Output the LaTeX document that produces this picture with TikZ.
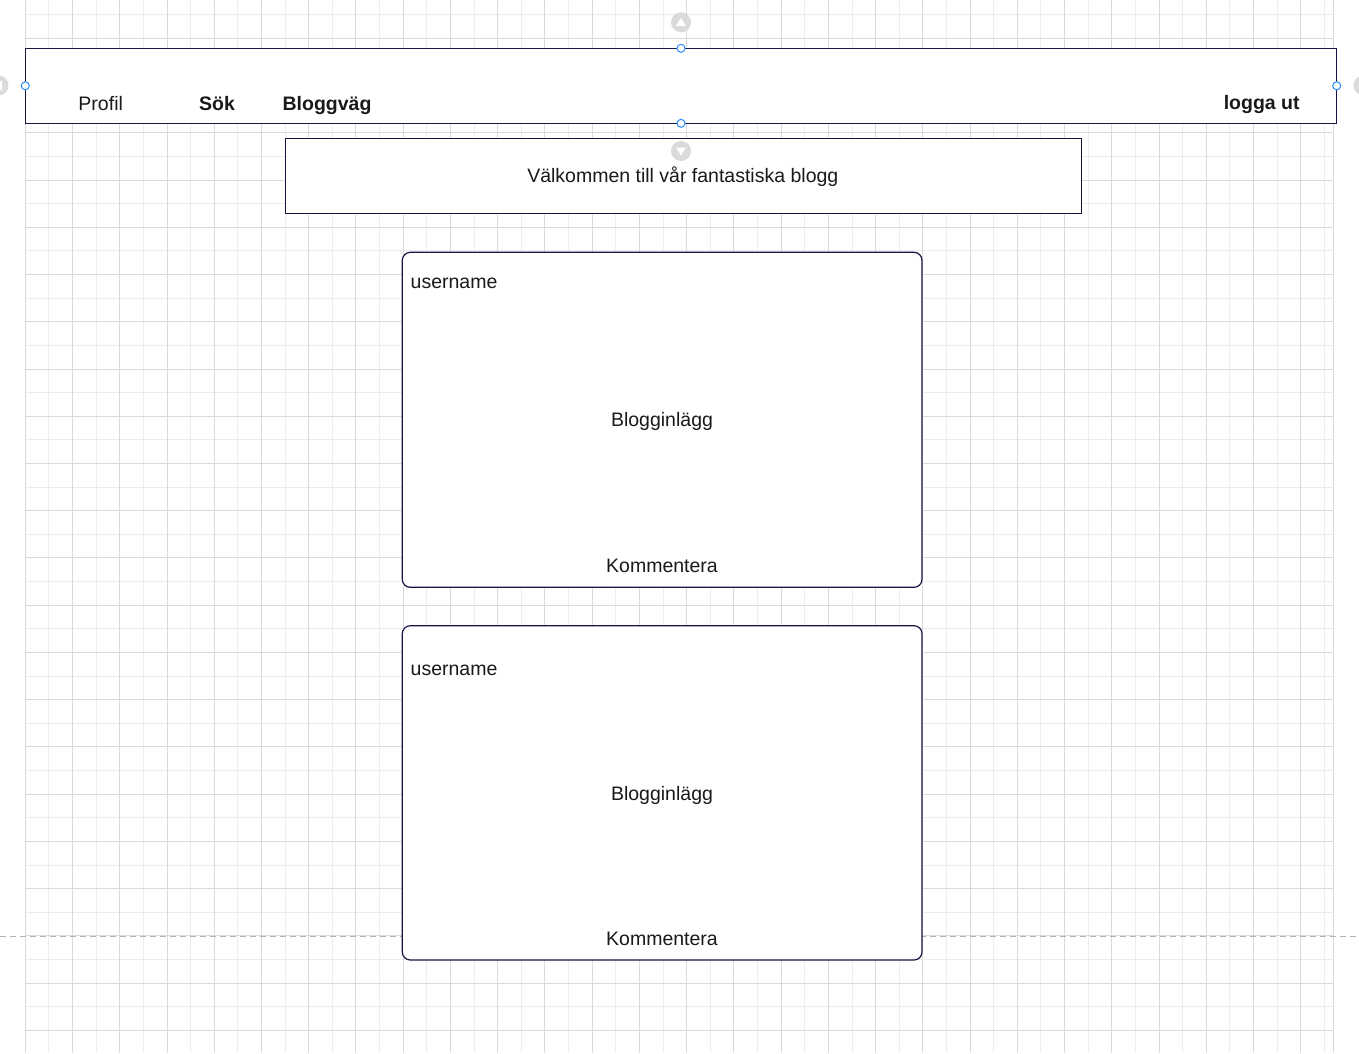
\documentclass[tikz,border=0pt]{standalone}
\usepackage{fontspec}
\setmainfont{Liberation Sans}
\definecolor{boxline}{RGB}{22,22,66}
\definecolor{gridmajor}{RGB}{218,218,218}
\definecolor{gridminor}{RGB}{236,236,236}
\definecolor{pagebreak}{RGB}{178,178,178}
\definecolor{handleblue}{RGB}{41,141,255}
\definecolor{hintgray}{RGB}{218,218,218}
\tikzset{
  boxstyle/.style={draw=boxline, fill=white, line width=1.2pt, inner sep=0pt, outer sep=0pt},
  poststyle/.style={boxstyle, rounded corners=8pt},
  txt/.style={inner sep=0pt, outer sep=0pt, anchor=base, text=black!90, font=\fontsize{19.5}{23}\selectfont},
  btxt/.style={txt, font=\fontsize{19.5}{23}\selectfont\bfseries},
  handle/.style={circle, draw=handleblue, fill=white, line width=1pt, minimum size=8pt, inner sep=0pt},
  hint/.style={circle, fill=hintgray, minimum size=20pt, inner sep=0pt},
  hinttri/.style={fill=white, draw=none}
}
\begin{document}
\begin{tikzpicture}[x=1pt,y=-1pt]
\useasboundingbox (0,0) rectangle (1359,1053);
\fill[white] (0,0) rectangle (1359,1053);
% grid: minor lines
\foreach \k in {1,3,...,55} {
  \pgfmathsetmacro\gx{25.3+23.62*\k}
  \draw[gridminor, line width=1pt] (\gx,0) -- (\gx,1053);
}
\foreach \k in {0,2,...,42} {
  \pgfmathsetmacro\gy{14.7+23.62*\k}
  \draw[gridminor, line width=1pt] (25.3,\gy) -- (1333.3,\gy);
}
% grid: major lines
\foreach \k in {0,2,...,54} {
  \pgfmathsetmacro\gx{25.3+23.62*\k}
  \draw[gridmajor, line width=1pt] (\gx,0) -- (\gx,1053);
}
\foreach \k in {1,3,...,43} {
  \pgfmathsetmacro\gy{14.7+23.62*\k}
  \draw[gridmajor, line width=1pt] (25.3,\gy) -- (1333.3,\gy);
}
\draw[gridmajor, line width=1pt] (1333.3,0) -- (1333.3,1053);
% page break line
\coordinate (pbL) at (0,936.3);
\coordinate (pbR) at (1359,936.3);
\draw[pagebreak, line width=1pt, dash pattern=on 6pt off 4pt] (pbL) -- (pbR);

% boxes
\node[boxstyle, minimum width=1311.4pt, minimum height=75pt] (header) at (681,85.8) {};
\node[boxstyle, minimum width=796.4pt, minimum height=75pt] (welcome) at (683.5,175.8) {};
\node[poststyle, minimum width=519.7pt, minimum height=335pt] (post1) at (662.15,419.8) {};
\node[poststyle, minimum width=519.7pt, minimum height=334.3pt] (post2) at (662.15,792.85) {};

% header texts
\node[txt] (profil) at (100.7,110.7) {Profil};
\node[btxt] (sok) at (217,110.3) {Sök};
\node[btxt] (bloggvag) at (327,110.3) {Bloggväg};
\node[btxt] (loggaut) at (1261.7,109.8) {logga ut};
% welcome
\node[txt] (welcometxt) at (682.8,182.3) {Välkommen till vår fantastiska blogg};
% post 1
\node[txt, anchor=base west] (user1) at (410.7,288.3) {username};
\node[txt] (inl1) at (662,426) {Blogginlägg};
\node[txt] (komm1) at (662,572.7) {Kommentera};
% post 2
\node[txt, anchor=base west] (user2) at (410.7,675.2) {username};
\node[txt] (inl2) at (662,800) {Blogginlägg};
\node[txt] (komm2) at (662,945.7) {Kommentera};

% selection handles
\node[handle] (hN) at (header.north) {};
\node[handle] (hS) at (header.south) {};
\node[handle] (hW) at (header.west) {};
\node[handle] (hE) at (header.east) {};

% hint arrows
\node[hint] (aUp) at (681,22.3) {};
\fill[hinttri] (aUp.center) ++(0,-4.5) -- ++(-5,8) -- ++(10,0) -- cycle;
\node[hint] (aDown) at (681,151) {};
\fill[hinttri] (aDown.center) ++(0,4.5) -- ++(-5,-8) -- ++(10,0) -- cycle;
\node[hint] (aLeft) at (-1.5,85.5) {};
\fill[hinttri] (aLeft.center) ++(-4.5,0) -- ++(8,-5) -- ++(0,10) -- cycle;
\node[hint] (aRight) at (1363.5,85.5) {};
\fill[hinttri] (aRight.center) ++(4.5,0) -- ++(-8,-5) -- ++(0,10) -- cycle;
\end{tikzpicture}
\end{document}
